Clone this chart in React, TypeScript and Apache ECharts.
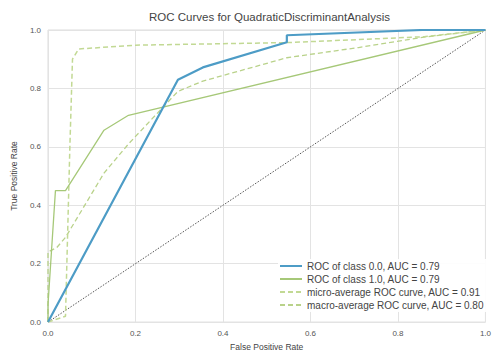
import React, { useEffect, useRef } from "react";
import * as echarts from "echarts";

const titleText = "ROC Curves for QuadraticDiscriminantAnalysis";
const xLabel = "False Positive Rate";
const yLabel = "True Positive Rate";

const class0Name = "ROC of class 0.0, AUC = 0.79";
const class1Name = "ROC of class 1.0, AUC = 0.79";
const microName = "micro-average ROC curve, AUC = 0.91";
const macroName = "macro-average ROC curve, AUC = 0.80";

const class0Fpr = [0, 0.297, 0.354, 0.546, 0.546, 0.856, 1.0];
const class0Tpr = [0, 0.83, 0.872, 0.958, 0.982, 1.0, 1.0];

const class1Fpr = [0, 0.0, 0.017, 0.04, 0.128, 0.184, 1.0];
const class1Tpr = [0, 0.06, 0.45, 0.45, 0.657, 0.708, 1.0];

const microFpr = [0, 0.04, 0.05, 0.056, 0.07, 0.2, 0.55, 0.86, 1.0];
const microTpr = [0, 0.02, 0.6, 0.9, 0.935, 0.948, 0.957, 0.977, 1.0];

const macroFpr = [0, 0.0, 0.02, 0.04, 0.128, 0.184, 0.297, 0.354, 0.546, 0.71, 0.856, 1.0];
const macroTpr = [0, 0.24, 0.255, 0.29, 0.51, 0.61, 0.79, 0.825, 0.905, 0.94, 0.975, 1.0];

const diagX = [0, 1];
const diagY = [0, 1];

const zip = (xs: number[], ys: number[]) => xs.map((x, i) => [x, ys[i]]);

const solidIcon = "path://M0,0h22v2h-22z";
const dashIcon = "path://M0,0h5v2h-5z M8,0h5v2h-5z M16,0h5v2h-5z M22,0h0v2h0z";

export default function App() {
  const ref = useRef<HTMLDivElement>(null);
  useEffect(() => {
    if (!ref.current) return;
    const chart = echarts.init(ref.current, null, { renderer: "svg" });
    const font = "Liberation Sans";
    const gridLeft = 48;
    const gridRight = 3;
    const gridTop = 30;
    const gridBottom = 29;
    const cx = gridLeft + (494 - gridLeft - gridRight) / 2;
    chart.setOption({
      animation: false,
      backgroundColor: "#ffffff",
      textStyle: { fontFamily: font },
      graphic: [
        {
          type: "text",
          x: cx,
          y: 17,
          style: {
            text: titleText,
            fontSize: 11.5,
            fill: "#444",
            fontFamily: font,
            align: "center",
            verticalAlign: "middle",
          },
        },
      ],
      grid: {
        left: gridLeft,
        right: gridRight,
        top: gridTop,
        bottom: gridBottom,
        show: true,
        borderColor: "#dddddd",
        borderWidth: 1,
      },
      xAxis: {
        type: "value",
        min: 0,
        max: 1,
        interval: 0.2,
        name: xLabel,
        nameLocation: "middle",
        nameGap: 19,
        nameTextStyle: { fontSize: 8.5, color: "#444", fontFamily: font },
        axisLine: { show: false },
        axisTick: { show: false },
        axisLabel: {
          fontSize: 8,
          color: "#555",
          margin: 7,
          formatter: (v: number) => v.toFixed(1),
        },
        splitLine: { show: true, lineStyle: { color: "#e3e3e3", width: 1 } },
      },
      yAxis: {
        type: "value",
        min: 0,
        max: 1,
        interval: 0.2,
        name: yLabel,
        nameLocation: "middle",
        nameGap: 30,
        nameTextStyle: { fontSize: 8.5, color: "#444", fontFamily: font },
        axisLine: { show: false },
        axisTick: { show: false },
        axisLabel: {
          fontSize: 8,
          color: "#555",
          margin: 7,
          formatter: (v: number) => v.toFixed(1),
        },
        splitLine: { show: true, lineStyle: { color: "#e3e3e3", width: 1 } },
      },
      legend: {
        orient: "vertical",
        left: 278,
        top: 259,
        itemWidth: 22,
        itemHeight: 8,
        itemGap: 3,
        backgroundColor: "rgba(255,255,255,0.9)",
        padding: [2, 2, 2, 2],
        textStyle: { fontSize: 10, color: "#444", fontFamily: font },
        data: [
          { name: class0Name, icon: solidIcon },
          { name: class1Name, icon: solidIcon },
          { name: microName, icon: dashIcon },
          { name: macroName, icon: dashIcon },
        ],
      },
      series: [
        {
          name: "diag",
          type: "line",
          data: zip(diagX, diagY),
          showSymbol: false,
          symbol: "none",
          lineStyle: { color: "#555555", width: 1, type: [1.5, 1.5] },
          z: 1,
        },
        {
          name: macroName,
          type: "line",
          data: zip(macroFpr, macroTpr),
          symbol: "none",
          lineStyle: { color: "#b9d28a", width: 1.3, type: [5, 3] },
          itemStyle: { color: "#b9d28a" },
          z: 2,
        },
        {
          name: microName,
          type: "line",
          data: zip(microFpr, microTpr),
          symbol: "none",
          lineStyle: { color: "#c2d994", width: 1.5, type: [5, 3] },
          itemStyle: { color: "#c2d994" },
          z: 3,
        },
        {
          name: class1Name,
          type: "line",
          data: zip(class1Fpr, class1Tpr),
          symbol: "none",
          lineStyle: { color: "#a6c878", width: 1.3 },
          itemStyle: { color: "#a6c878" },
          z: 4,
        },
        {
          name: class0Name,
          type: "line",
          data: zip(class0Fpr, class0Tpr),
          symbol: "none",
          lineStyle: { color: "#4d9cc6", width: 2.2 },
          itemStyle: { color: "#4d9cc6" },
          z: 5,
        },
      ],
    });
    return () => chart.dispose();
  }, []);
  return <div ref={ref} style={{ width: 494, height: 356, position: "fixed", left: 0, top: 0 }} />;
}
